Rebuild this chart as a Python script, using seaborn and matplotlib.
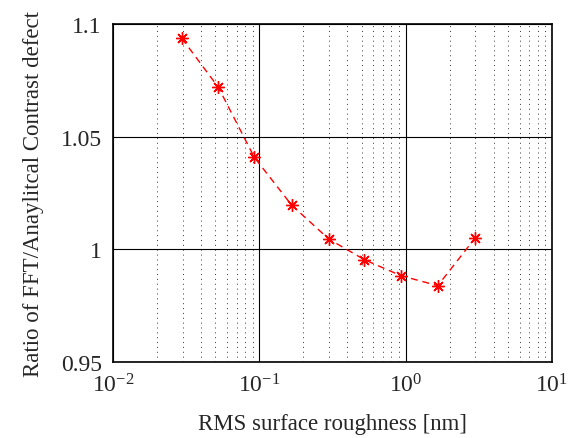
import matplotlib
matplotlib.use("Agg")
import matplotlib.pyplot as plt
import numpy as np
import pandas as pd
import seaborn as sns
from matplotlib.ticker import LogLocator

# values
roughness = [0.0295, 0.0525, 0.0925, 0.166, 0.298, 0.523, 0.931, 1.657, 2.98]
ratio = [1.0937, 1.0719, 1.0408, 1.0197, 1.0046, 0.9954, 0.9883, 0.9839, 1.0050]

sns.set_style("white")
plt.rcParams['font.family'] = ['Liberation Serif', 'DejaVu Serif']
plt.rcParams['mathtext.fontset'] = 'stix'

df = pd.DataFrame({'roughness': roughness, 'ratio': ratio})

fig = plt.figure(figsize=(5.78, 4.39), dpi=100)
ax = fig.add_axes([0.1955, 0.173, 0.7595, 0.770])

sns.lineplot(data=df, x='roughness', y='ratio', ax=ax, color='red',
             linewidth=1.0, marker=(8, 2, 0), markersize=9,
             markeredgecolor='red', markeredgewidth=1.0,
             dashes=False)
ax.lines[0].set_dashes([5, 3.5])

ax.set_xscale('log')
ax.set_xlim(1e-2, 1e1)
ax.set_ylim(0.95, 1.1)
ax.set_yticks([0.95, 1.0, 1.05, 1.1])
ax.set_yticklabels(['0.95', '1', '1.05', '1.1'])
ax.xaxis.set_minor_locator(LogLocator(base=10, subs=np.arange(2, 10), numticks=20))

ax.grid(True, which='major', color='black', linestyle='-', linewidth=0.8)
ax.grid(True, which='minor', axis='x', color='black', linestyle=(0, (1, 4)),
        linewidth=0.7, alpha=0.8)
ax.set_axisbelow(True)

for s in ax.spines.values():
    s.set_color('black')
    s.set_linewidth(1.2)

ax.tick_params(which='both', direction='in', length=0, labelsize=17, pad=8)
ax.set_xlabel('RMS surface roughness [nm]', fontsize=16.5, labelpad=12)
ax.set_ylabel('Ratio of FFT/Anaylitcal Contrast defect', fontsize=16.5, labelpad=12)

fig.savefig('out.png', dpi=100)
